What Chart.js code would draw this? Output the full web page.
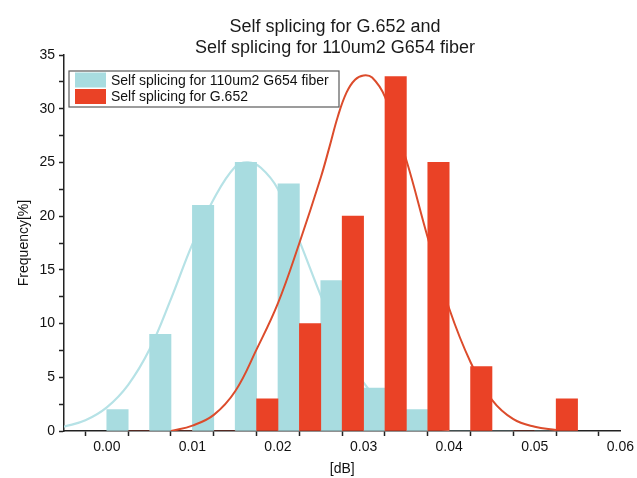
<!DOCTYPE html>
<html>
<head>
<meta charset="utf-8">
<script src="https://cdn.jsdelivr.net/npm/chart.js@4"></script>
<style>
  html, body { margin: 0; padding: 0; background: #ffffff; }
  #wrap { width: 637px; height: 478px; }
</style>
</head>
<body>
<div id="wrap"><canvas id="chart" width="637" height="478"></canvas></div>
<script>
// Splice-loss histogram bins (dB), each bin 0.005 dB wide
const binStarts = [0.000, 0.005, 0.010, 0.015, 0.020, 0.025, 0.030, 0.035, 0.040, 0.045, 0.050];
const binWidth = 0.005;

// Frequency [%] per bin
const g654Freq = [2, 9, 21, 25, 23, 14, 4, 2, 0, 0, 0];
const g652Freq = [0, 0, 0, 3, 10, 20, 33, 25, 6, 0, 3];

// Distribution curves
const g654CurveX = [-0.005, -0.0025, 0.000, 0.0025, 0.005, 0.0075, 0.010, 0.0125, 0.015, 0.0165, 0.018, 0.020, 0.0225, 0.025, 0.0275, 0.030, 0.0325, 0.035, 0.0375, 0.040];
const g654CurveY = [0.4, 1.0, 2.2, 4.3, 7.6, 12.3, 17.4, 21.6, 24.6, 25.0, 24.5, 22.5, 17.7, 12.6, 7.9, 4.5, 2.3, 1.0, 0.4, 0.1];
const g652CurveX = [0.0075, 0.010, 0.0125, 0.015, 0.0175, 0.020, 0.0225, 0.025, 0.026, 0.027, 0.028, 0.029, 0.030, 0.031, 0.0325, 0.035, 0.0375, 0.040, 0.0425, 0.045, 0.0475, 0.050, 0.0525];
const g652CurveY = [0.0, 0.5, 1.5, 3.7, 7.6, 11.9, 17.5, 23.6, 26.4, 29.3, 31.5, 32.7, 33.1, 32.9, 31.1, 25.2, 18.0, 11.4, 6.4, 2.9, 1.1, 0.4, 0.1];

const titleLines = ['Self splicing for G.652 and', 'Self splicing for 110um2 G654 fiber'];
const g654Label = 'Self splicing for 110um2 G654 fiber';
const g652Label = 'Self splicing for G.652';
const xAxisTitle = '[dB]';
const yAxisTitle = 'Frequency[%]';

const CYAN_BAR = '#a8dce0';
const CYAN_LINE = '#b6e2e6';
const RED_BAR = '#ea4226';
const RED_LINE = '#dc4c2c';
const AXIS = '#222222';
const TEXT = '#111111';
const FONT = '"Liberation Sans", Arial, sans-serif';

// G654 occupies the left half of each bin, G652 the right half
const g654Bars = binStarts.map((s, i) => ({ x: s + binWidth / 4, y: g654Freq[i] }));
const g652Bars = binStarts.map((s, i) => ({ x: s + binWidth * 3 / 4, y: g652Freq[i] }));
const g654Curve = g654CurveX.map((x, i) => ({ x, y: g654CurveY[i] }));
const g652Curve = g652CurveX.map((x, i) => ({ x, y: g652CurveY[i] }));

const titlePlugin = {
  id: 'twoLineTitle',
  afterDraw(chart) {
    const ctx = chart.ctx;
    ctx.save();
    ctx.fillStyle = '#1a1a1a';
    ctx.font = '18px ' + FONT;
    ctx.textAlign = 'center';
    ctx.textBaseline = 'middle';
    const cx = 335;
    ctx.fillText(titleLines[0], cx, 27);
    ctx.fillText(titleLines[1], cx, 48);
    ctx.restore();
  }
};

const boxLegend = {
  id: 'boxLegend',
  afterDraw(chart) {
    const ctx = chart.ctx;
    const area = chart.chartArea;
    const entries = chart.data.datasets.filter(d => d.type === 'bar');
    const x0 = area.left + 5, y0 = area.top + 16, w = 270, rowH = 16.5;
    const h = entries.length * rowH + 3;
    ctx.save();
    ctx.fillStyle = '#ffffff';
    ctx.fillRect(x0, y0, w, h);
    ctx.strokeStyle = '#5a5a5a';
    ctx.lineWidth = 1.2;
    ctx.strokeRect(x0, y0, w, h);
    ctx.font = '14px ' + FONT;
    ctx.textBaseline = 'middle';
    ctx.textAlign = 'left';
    entries.forEach((d, i) => {
      const ry = y0 + 1.5 + i * rowH;
      ctx.fillStyle = d.backgroundColor;
      ctx.fillRect(x0 + 6, ry, 31, rowH - 1.5);
      ctx.fillStyle = TEXT;
      ctx.fillText(d.label, x0 + 42, ry + rowH / 2);
    });
    ctx.restore();
  }
};

new Chart(document.getElementById('chart'), {
  data: {
    datasets: [
      {
        type: 'bar', label: g654Label, data: g654Bars,
        backgroundColor: CYAN_BAR, borderWidth: 0,
        grouped: false, barPercentage: 1, categoryPercentage: 1, order: 3
      },
      {
        type: 'bar', label: g652Label, data: g652Bars,
        backgroundColor: RED_BAR, borderWidth: 0,
        grouped: false, barPercentage: 1, categoryPercentage: 1, order: 1
      },
      {
        type: 'line', label: g654Label + ' fit', data: g654Curve,
        borderColor: CYAN_LINE, borderWidth: 2.2, pointRadius: 0, fill: false,
        tension: 0.4, order: 4
      },
      {
        type: 'line', label: g652Label + ' fit', data: g652Curve,
        borderColor: RED_LINE, borderWidth: 2, pointRadius: 0, fill: false,
        tension: 0.4, order: 2
      }
    ]
  },
  options: {
    responsive: false,
    animation: false,
    devicePixelRatio: 1,
    layout: { padding: { top: 55, right: 16, bottom: 0, left: 0 } },
    plugins: {
      legend: { display: false },
      title: { display: false },
      tooltip: { enabled: false }
    },
    scales: {
      x: {
        type: 'linear',
        min: -0.005, max: 0.06,
        offset: false,
        grid: { drawOnChartArea: false, drawTicks: true, tickLength: 5, tickColor: AXIS, tickWidth: 1.5 },
        border: { display: true, color: AXIS, width: 1.5 },
        ticks: {
          stepSize: 0.005, autoSkip: false, maxRotation: 0, minRotation: 0,
          padding: 3, color: TEXT, font: { family: FONT, size: 14 },
          callback: (v) => Math.abs(v * 100 - Math.round(v * 100)) < 1e-6 ? Math.abs(v).toFixed(2) : ''
        },
        title: { display: true, text: xAxisTitle, color: TEXT, font: { family: FONT, size: 14 }, padding: { top: 0, bottom: 0 } },
        afterFit: (s) => { s.height = 47; }
      },
      y: {
        min: 0, max: 35,
        grid: { drawOnChartArea: false, drawTicks: true, tickLength: 5, tickColor: AXIS, tickWidth: 1.5 },
        border: { display: true, color: AXIS, width: 1.5 },
        ticks: {
          stepSize: 2.5, autoSkip: false, padding: 4, color: TEXT, font: { family: FONT, size: 14 },
          callback: (v) => (Math.abs(v % 5) < 1e-9 ? String(v) : '')
        },
        title: { display: true, text: yAxisTitle, color: TEXT, font: { family: FONT, size: 14 }, padding: { top: 16, bottom: 0 } },
        afterFit: (s) => { s.width = 64; }
      }
    }
  },
  plugins: [titlePlugin, boxLegend]
});
</script>
</body>
</html>
